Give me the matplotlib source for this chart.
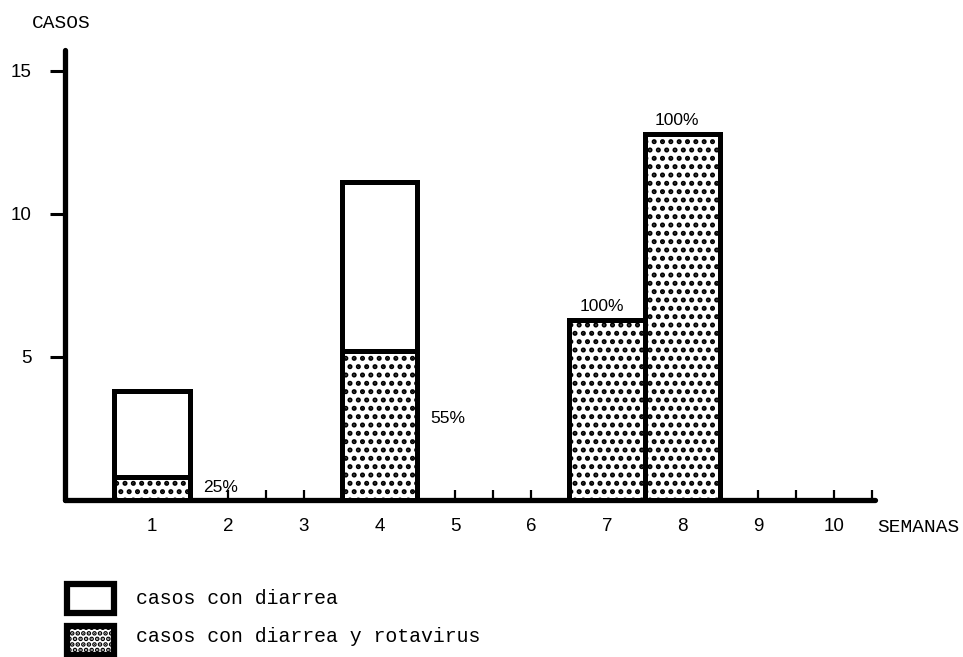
import matplotlib
matplotlib.use("Agg")
import matplotlib.pyplot as plt
from matplotlib.patches import Rectangle
import numpy as np

# data (cases per week)
weeks = [1, 2, 3, 4, 5, 6, 7, 8, 9, 10]
week_labels = ["1", "2", "3", "4", "5", "6", "7", "8", "9", "10"]
bar_weeks = [1, 4, 7, 8]
casos_diarrea = [3.8, 11.1, 6.3, 12.8]
casos_rotavirus = [0.8, 5.2, 6.3, 12.8]
porcentajes = ["25%", "55%", "100%", "100%"]
y_ticks = [5, 10, 15]

plt.rcParams["hatch.linewidth"] = 2.4
plt.rcParams["hatch.color"] = "black"

mono = "Liberation Mono"
sans = "Liberation Sans"

fig = plt.figure(figsize=(9.63, 6.57), dpi=100)
W, H = 963.0, 657.0
ax = fig.add_axes([65 / W, 1 - 500 / H, (875 - 65) / W, (500 - 50) / H])

# bars: total cases (white), rotavirus part (stippled)
ax.bar(bar_weeks, casos_diarrea, width=1.0, color="white", edgecolor="black",
       linewidth=3.6, zorder=3, clip_on=False)
ax.bar(bar_weeks, casos_rotavirus, width=1.0, color="white", edgecolor="black",
       hatch="..", linewidth=3.6, zorder=4, clip_on=False)

# percent labels
for wk, tot, rot, txt in zip(bar_weeks, casos_diarrea, casos_rotavirus, porcentajes):
    if rot < tot:
        ax.text(wk + 0.9, rot * 0.55, txt, ha="center", va="center",
                fontsize=12.5, family=sans, zorder=5)
    else:
        ax.annotate(txt, (wk - 0.07, tot), xytext=(0, 4), textcoords="offset points",
                    ha="center", va="bottom", fontsize=12.5, family=sans, zorder=5)

ax.set_xlim(-0.15, 10.54)
ax.set_ylim(0, 15.73)

for s in ["top", "right"]:
    ax.spines[s].set_visible(False)
for s in ["left", "bottom"]:
    ax.spines[s].set_linewidth(3.8)
    ax.spines[s].set_capstyle("round")

ax.set_yticks(y_ticks)
ax.set_yticklabels([str(v) for v in y_ticks], family=sans)
ax.tick_params(axis="y", direction="out", length=11, width=2.2, pad=13,
               labelsize=13.5)

ax.set_xticks(weeks)
ax.set_xticklabels(week_labels, family=sans)
ax.set_xticks(np.arange(1.5, 11, 1.0), minor=True)
ax.tick_params(axis="x", which="both", direction="in", length=7, width=1.6,
               pad=13, labelsize=13.5)

fig.text(61 / W, 1 - 24 / H, "CASOS", ha="center", va="center",
         fontsize=14, family=mono)
fig.text(877 / W, 1 - 527 / H, "SEMANAS", ha="left", va="center",
         fontsize=14, family=mono)

# legend drawn by hand below the chart
box1 = Rectangle((67 / W, 1 - 613 / H), 47 / W, 29 / H, transform=fig.transFigure,
                 facecolor="white", edgecolor="black", linewidth=4.5)
box2 = Rectangle((67 / W, 1 - 655 / H), 47 / W, 29 / H, transform=fig.transFigure,
                 facecolor="white", edgecolor="black", hatch="...", linewidth=4.5)
fig.add_artist(box1)
fig.add_artist(box2)
fig.text(136 / W, 1 - 598 / H, "casos con diarrea", ha="left", va="center",
         fontsize=14.3, family=mono)
fig.text(136 / W, 1 - 637 / H, "casos con diarrea y rotavirus", ha="left",
         va="center", fontsize=14.3, family=mono)

fig.savefig("out.png", dpi=100)
